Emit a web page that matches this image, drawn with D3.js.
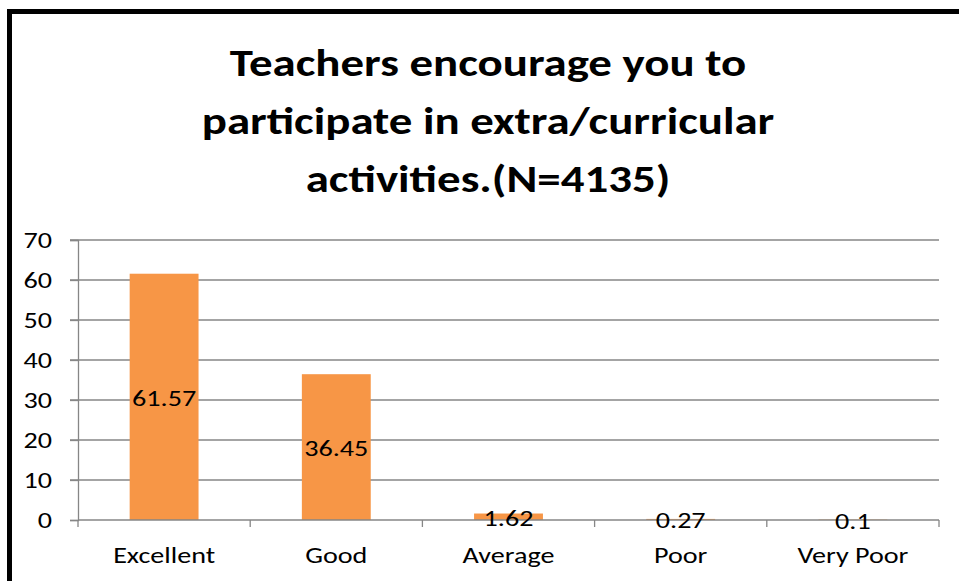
<!DOCTYPE html>
<html><head><meta charset="utf-8">
<script src="https://cdn.jsdelivr.net/npm/d3@7"></script>
<style>body{margin:0;background:#fff}svg{display:block}</style>
</head><body><svg id="c" width="959" height="581"></svg>
<script>
const categories = ["Excellent","Good","Average","Poor","Very Poor"];
const values = [61.57,36.45,1.62,0.27,0.1];
const yTicks = [0,10,20,30,40,50,60,70];
const titleLines = ["Teachers encourage you to","participate in extra/curricular","activities.(N=4135)"];

const svg = d3.select("#c");
const font = "Carlito, Lato, 'Liberation Sans', sans-serif";
const SX = 1.25;
svg.append("rect").attr("x",9.5).attr("y",11.5).attr("width",980).attr("height",620)
  .attr("fill","#fff").attr("stroke","#000").attr("stroke-width",5);

const x = d3.scaleBand().domain(categories).range([78,939]).paddingInner(0.6).paddingOuter(0.3);
const y = d3.scaleLinear().domain([0,70]).range([520,240]);

function stext(g, tx, ty, str, size, anchor, weight){
  return g.append("text").attr("transform",`translate(${tx},${ty}) scale(${SX},1)`)
    .attr("text-anchor",anchor).attr("font-family",font).attr("font-size",size)
    .attr("font-weight",weight||"normal").attr("fill","#000").text(str);
}

const tg = svg.append("g");
titleLines.forEach((t,i)=>stext(tg,488,76+i*58,t,37.5,"middle","bold"));

// gridlines
svg.append("g").selectAll("line").data(yTicks.filter(d=>d>0)).join("line")
  .attr("x1",70).attr("x2",939).attr("y1",d=>y(d)).attr("y2",d=>y(d))
  .attr("stroke","#868686").attr("stroke-width",1.3);

const yAxis = svg.append("g").attr("transform","translate(78,0)")
  .call(d3.axisLeft(y).tickValues(yTicks).tickSize(8).tickFormat(""));
yAxis.select(".domain").attr("stroke","#868686").attr("stroke-width",1.3);
yAxis.selectAll(".tick line").attr("stroke","#868686").attr("stroke-width",1.3);
const yl = svg.append("g");
yTicks.forEach(t=>stext(yl,52,y(t)+8,String(t),22.5,"end"));

// bars
svg.append("g").selectAll("rect").data(values).join("rect")
  .attr("x",(d,i)=>x(categories[i])).attr("width",x.bandwidth())
  .attr("y",d=>y(d)).attr("height",d=>y(0)-y(d)).attr("fill","#F79646");

// x axis
const band = (939-78)/categories.length;
const xg = svg.append("g");
xg.append("line").attr("x1",78).attr("x2",939).attr("y1",y(0)).attr("y2",y(0)).attr("stroke","#868686").attr("stroke-width",1.3);
xg.selectAll("line.t").data(d3.range(categories.length+1)).join("line").attr("class","t")
  .attr("x1",i=>78+i*band).attr("x2",i=>78+i*band).attr("y1",y(0)).attr("y2",y(0)+7)
  .attr("stroke","#868686").attr("stroke-width",1.3);
categories.forEach(c=>stext(xg,x(c)+x.bandwidth()/2,563,c,22.5,"middle"));

// value labels
const vg = svg.append("g");
values.forEach((v,i)=>stext(vg,x(categories[i])+x.bandwidth()/2,(y(v)+y(0))/2+9,String(v),22.5,"middle"));
</script></body></html>
